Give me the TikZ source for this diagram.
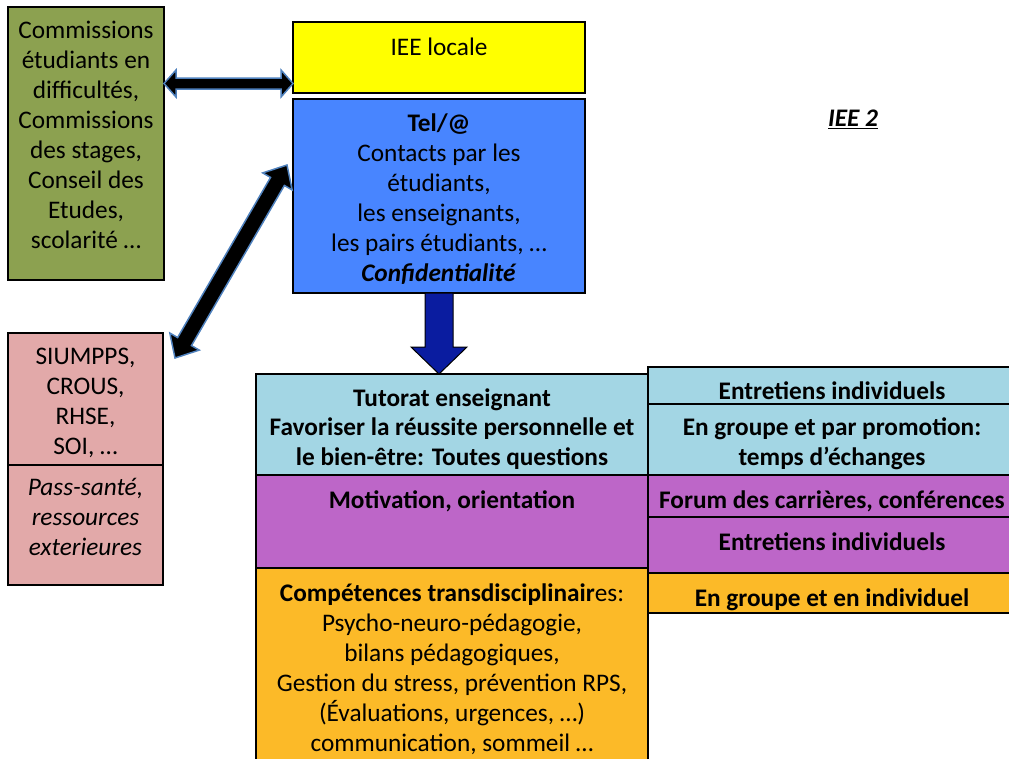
\documentclass[tikz,border=0pt]{standalone}
\usepackage{fontspec}
\setmainfont{Carlito}
\usetikzlibrary{calc}
\definecolor{cgreen}{RGB}{140,161,80}
\definecolor{cyellow}{RGB}{255,255,0}
\definecolor{cblue}{RGB}{72,133,255}
\definecolor{cpink}{RGB}{226,169,169}
\definecolor{clblue}{RGB}{163,214,228}
\definecolor{cpurple}{RGB}{189,102,200}
\definecolor{corange}{RGB}{252,186,40}
\definecolor{arrowline}{RGB}{79,129,189}
\definecolor{darrow}{RGB}{10,28,160}
\newcommand\dblblockarrow[6]{%
  \coordinate (a1) at ($(#2)!#4!(#3)$);
  \coordinate (b1) at ($(#3)!#4!(#2)$);
  \path[#1] (#2) -- ($(a1)!#5!90:(#3)$) -- ($(a1)!#6!90:(#3)$) -- ($(b1)!#6!90:(#3)$)
    -- ($(b1)!#5!90:(#3)$) -- (#3) -- ($(b1)!#5!-90:(#3)$) -- ($(b1)!#6!-90:(#3)$)
    -- ($(a1)!#6!-90:(#3)$) -- ($(a1)!#5!-90:(#3)$) -- cycle;}
\begin{document}
\begin{tikzpicture}[x=1pt,y=-1pt,
  box/.style={draw=black, line width=1.2pt, anchor=north west, inner sep=0pt, outer sep=0pt},
  txt/.style={align=center, inner sep=0pt, font=\fontsize{25.3}{30}\selectfont,
    execute at begin node={\rule{0pt}{19pt}}, execute at end node={\rule[-6pt]{0pt}{6pt}}},
  btxt/.style={txt, font=\fontsize{25.3}{30}\selectfont\bfseries},
  blockarrow/.style={fill=black, draw=arrowline, line width=1.5pt, line join=miter}]
\useasboundingbox (0,0) rectangle (1009,758);
\clip (0,0) rectangle (1009,758);
% boxes
\node[box, fill=cgreen, minimum width=156, minimum height=273] (green) at (8,7) {};
\node[box, fill=cyellow, minimum width=292, minimum height=71] (yellow) at (293,22) {};
\node[box, fill=cblue, minimum width=292, minimum height=194] (blue) at (293,99) {};
\node[box, fill=cpink, minimum width=155, minimum height=132] (pink1) at (8,333) {};
\node[box, fill=cpink, minimum width=155, minimum height=120] (pink2) at (8,465) {};
\node[box, fill=clblue, minimum width=392, minimum height=101] (tut) at (256,374) {};
\node[box, fill=cpurple, minimum width=392, minimum height=93] (purp) at (256,475) {};
\node[box, fill=corange, minimum width=392, minimum height=200] (orng) at (256,568) {};
\node[box, fill=clblue, minimum width=368, minimum height=37] (r1) at (648,367) {};
\node[box, fill=clblue, minimum width=368, minimum height=71] (r2) at (648,404) {};
\node[box, fill=cpurple, minimum width=368, minimum height=42] (r3) at (648,475) {};
\node[box, fill=cpurple, minimum width=368, minimum height=56] (r4) at (648,517) {};
\node[box, fill=corange, minimum width=368, minimum height=40] (r5) at (648,573) {};
% texts
\node[txt] (greenT) at (86,138) {Commissions\\étudiants en\\difficultés,\\Commissions\\des stages,\\Conseil des\\Etudes,\\scolarité …};
\node[txt] (yellowT) at (439,48.5) {IEE locale};
\node[txt] (blueT) at (439,200.5) {\textbf{Tel/@}\\Contacts par les\\étudiants,\\les enseignants,\\les pairs étudiants, …\\\textbf{\textit{Confidentialité}}};
\node[txt] (iee2) at (853,120) {\textbf{\textit{\underline{IEE 2}}}};
\node[txt] (pink1T) at (85.5,404.5) {SIUMPPS,\\CROUS,\\RHSE,\\SOI, …};
\node[txt, font=\fontsize{25.3}{30}\selectfont\itshape] (pink2T) at (85.5,519.5) {Pass-santé,\\ressources\\exterieures};
\node[btxt, font=\fontsize{25.3}{29.5}\selectfont\bfseries] (tutT) at (452,430) {Tutorat enseignant\\Favoriser la réussite personnelle et\\le bien-être: Toutes questions};
\node[btxt] (purpT) at (452,501.5) {Motivation, orientation};
\node[txt] (orngT) at (452,670.5) {\textbf{Compétences transdisciplinair}es:\\Psycho-neuro-pédagogie,\\bilans pédagogiques,\\Gestion du stress, prévention RPS,\\(Évaluations, urgences, …)\\communication, sommeil …};
\node[btxt] (r1T) at (832,392.5) {Entretiens individuels};
\node[btxt] (r2T) at (832,444.5) {En groupe et par promotion:\\temps d’échanges};
\node[btxt] (r3T) at (832,501.5) {Forum des carrières, conférences};
\node[btxt] (r4T) at (832,543.5) {Entretiens individuels};
\node[btxt] (r5T) at (832,599.5) {En groupe et en individuel};
% arrows
\coordinate (hL) at (green.east |- 0,83.5);
\coordinate (hR) at (yellow.west |- 0,83.5);
\dblblockarrow{blockarrow}{hL}{hR}{12pt}{13.5pt}{5.5pt}
\coordinate (dU) at ([xshift=-6pt]blue.west |- 0,165);
\coordinate (dL) at ([xshift=12pt]pink1.east |- 0,358);
\dblblockarrow{blockarrow}{dL}{dU}{19pt}{17pt}{8pt}
\coordinate (vT) at (blue.south);
\coordinate (vB) at (blue.south |- tut.north);
\path[fill=darrow, draw=black, line width=1pt] ($(vT)+(-14,0)$) -- ($(vT)+(14,0)$) -- ($(vB)+(14,-27)$) -- ($(vB)+(28,-27)$) -- (vB) -- ($(vB)+(-28,-27)$) -- ($(vB)+(-14,-27)$) -- cycle;
\end{tikzpicture}
\end{document}
